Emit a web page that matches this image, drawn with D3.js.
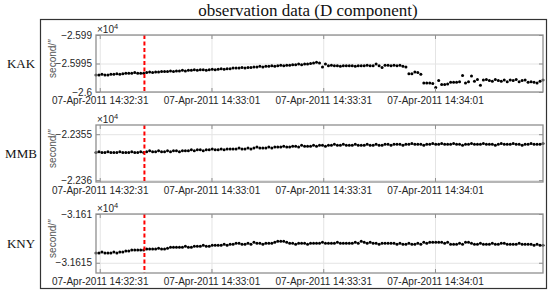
<!DOCTYPE html>
<html>
<head>
<meta charset="utf-8">
<script src="https://cdn.jsdelivr.net/npm/d3@7"></script>
<style>
  body { margin: 0; background: #fff; }
  svg { display: block; }
</style>
</head>
<body>
<div id="chart"></div>
<script>
const chartTitle = "observation data (D component)";
const stations = ["KAK", "MMB", "KNY"];

// one sample every 0.8 s starting at 14:32:30
const startTime = "2011-04-07T14:32:30";
const sampleStep = 0.8;
const eventTime = "2011-04-07T14:32:43";
const xTickTimes = ["2011-04-07T14:32:31", "2011-04-07T14:33:01", "2011-04-07T14:33:31", "2011-04-07T14:34:01"];

const kakValues = [
  -25997.0, -25997.0, -25996.9, -25997.0, -25997.0, -25996.9,
  -25996.9, -25996.8, -25996.9, -25996.8,
  -25996.7, -25996.7, -25996.7, -25996.6, -25996.7, -25996.7, -25996.7,
  -25996.6, -25996.5, -25996.6, -25996.5, -25996.5, -25996.4,
  -25996.4, -25996.4, -25996.3, -25996.4, -25996.3, -25996.3, -25996.2, -25996.3,
  -25996.2, -25996.2, -25996.1, -25996.2, -25996.1, -25996.1, -25996.2, -25996.1, -25996.0, -25996.1,
  -25996.0, -25995.9, -25996.0, -25995.9, -25995.9, -25995.8,
  -25995.8, -25995.8, -25995.7, -25995.8, -25995.7, -25995.7,
  -25995.6, -25995.6, -25995.5, -25995.6, -25995.5, -25995.5, -25995.4, -25995.5,
  -25995.4, -25995.3, -25995.4, -25995.3, -25995.3, -25995.2,
  -25995.2, -25995.1, -25995.2, -25995.1, -25995.1, -25995.0,
  -25994.9, -25994.8, -25994.9,
  -25995.6,
  -25995.1,
  -25995.4, -25995.3, -25995.4, -25995.4, -25995.5, -25995.4, -25995.4, -25995.4,
  -25995.4, -25995.5, -25995.4, -25995.4, -25995.4, -25995.3, -25995.4, -25995.4,
  -25995.1, -25995.4, -25995.7, -25995.3, -25995.3, -25995.4, -25995.3,
  -25995.4, -25995.3, -25995.5, -25995.6,
  -25996.8, -25996.8, -25996.5, -25996.6, -25996.9,
  -25998.4, -25998.4, -25998.4, -25998.5, -25999.2, -25998.0, -25998.7, -25998.7, -25998.6, -25998.3,
  -25998.3, -25998.3, -25998.2, -25997.1, -25998.4, -25998.2, -25997.2, -25998.1, -25997.8, -25998.8,
  -25997.9, -25997.8, -25998.0, -25998.1, -25997.8, -25998.0, -25998.1, -25997.9, -25998.2, -25997.9,
  -25998.0, -25997.8, -25998.2, -25998.0, -25997.9, -25998.3, -25998.2, -25998.3, -25998.4, -25998.1,
  -25997.9
];

const mmbValues = [
  -22357.0, -22356.9, -22357.0, -22357.0, -22356.9, -22357.0, -22357.0, -22357.0, -22356.9,
  -22357.0, -22357.0, -22357.0, -22356.9, -22357.0, -22357.0, -22356.9, -22357.0,
  -22356.9, -22356.8, -22356.9, -22356.9, -22356.8, -22356.9, -22356.9, -22356.8, -22356.9,
  -22356.8, -22356.8, -22356.9, -22356.8, -22356.8,
  -22356.8, -22356.7, -22356.8, -22356.7, -22356.7, -22356.8, -22356.7, -22356.7, -22356.6,
  -22356.7, -22356.7, -22356.6, -22356.7, -22356.6, -22356.6,
  -22356.6, -22356.6, -22356.5, -22356.6, -22356.6, -22356.5, -22356.6, -22356.5, -22356.4,
  -22356.5, -22356.5, -22356.5, -22356.4, -22356.5, -22356.4,
  -22356.4, -22356.4, -22356.3, -22356.4, -22356.4, -22356.3, -22356.3, -22356.4, -22356.2, -22356.3,
  -22356.3, -22356.3, -22356.2, -22356.3, -22356.2, -22356.2, -22356.3, -22356.2, -22356.2, -22356.1,
  -22356.2, -22356.2, -22356.1, -22356.2, -22356.2, -22356.2, -22356.1, -22356.2, -22356.2, -22356.2,
  -22356.1, -22356.2, -22356.2, -22356.1, -22356.2, -22356.2, -22356.1, -22356.1, -22356.2, -22356.1,
  -22356.1, -22356.1, -22356.2, -22356.1, -22356.1, -22356.0, -22356.1, -22356.1, -22356.1, -22356.2,
  -22356.1, -22356.1, -22356.0, -22356.1, -22356.1, -22356.0, -22356.1, -22356.1, -22356.1, -22356.0,
  -22356.1, -22356.1, -22356.2, -22356.1, -22356.1,
  -22356.0, -22356.1, -22356.1, -22356.1, -22356.0, -22356.1, -22356.1, -22356.1, -22356.2, -22356.1,
  -22356.0, -22356.1, -22356.1, -22356.1, -22356.0, -22356.1, -22356.1, -22356.2, -22356.1, -22356.1,
  -22356.0, -22356.1, -22356.1, -22356.1, -22356.0
];

const knyValues = [
  -31614.0, -31614.0, -31613.9, -31614.0, -31614.0, -31614.0, -31613.9, -31614.0,
  -31613.9, -31613.9, -31613.8, -31613.8,
  -31613.7, -31613.7, -31613.7, -31613.7, -31613.7,
  -31613.6, -31613.6, -31613.6, -31613.6, -31613.5, -31613.6, -31613.6,
  -31613.5, -31613.4, -31613.4, -31613.4, -31613.4, -31613.4, -31613.3, -31613.4, -31613.4,
  -31613.3, -31613.3, -31613.3, -31613.2, -31613.3, -31613.3, -31613.2, -31613.2,
  -31613.2, -31613.2, -31613.1, -31613.2, -31613.1, -31613.1, -31613.0,
  -31613.0, -31613.1, -31613.1,
  -31613.0, -31613.1, -31612.9, -31613.0, -31613.0, -31613.1, -31613.0, -31613.0, -31613.0, -31612.9,
  -31612.8, -31612.8, -31612.8, -31612.9,
  -31613.0, -31613.0, -31613.1, -31613.0, -31613.0, -31613.0, -31613.1, -31613.0, -31613.0, -31613.0, -31613.0,
  -31612.9,
  -31613.0, -31613.0, -31613.0, -31613.0, -31612.9, -31613.0, -31613.0, -31613.0, -31613.0, -31613.0, -31612.9, -31613.0,
  -31612.8,
  -31612.9, -31613.0, -31612.9, -31613.0, -31613.0, -31613.1, -31613.0, -31613.0, -31613.0, -31613.0, -31613.0,
  -31613.1, -31613.0, -31613.1, -31613.1, -31613.0, -31613.1, -31613.1, -31613.0, -31613.1, -31612.9, -31613.0,
  -31612.9, -31612.9, -31612.9, -31612.9, -31612.9, -31613.0, -31612.9,
  -31613.1, -31613.1, -31613.1, -31613.0, -31613.1,
  -31612.9, -31612.9, -31613.0,
  -31613.1, -31613.1, -31613.0, -31613.1, -31613.1, -31613.1, -31613.0, -31613.1, -31613.1, -31613.0,
  -31613.0, -31613.1, -31613.1, -31613.1, -31613.1, -31613.0, -31613.1, -31613.1, -31613.1,
  -31613.1, -31613.2, -31613.1, -31613.2, -31613.2
];

const kakDomain = [-26000, -25990];
const mmbDomain = [-22360.2, -22354.0];
const knyDomain = [-31616.05, -31610];
const kakTicks = [-26000, -25995, -25990];
const mmbTicks = [-22360, -22355];
const knyTicks = [-31615, -31610];
const kakTickLabels = ["−2.6", "−2.5995", "−2.599"];
const mmbTickLabels = ["−2.236", "−2.2355"];
const knyTickLabels = ["−3.1615", "−3.161"];

const panels = [
  { name: stations[0], values: kakValues, domain: kakDomain, ticks: kakTicks, labels: kakTickLabels },
  { name: stations[1], values: mmbValues, domain: mmbDomain, ticks: mmbTicks, labels: mmbTickLabels },
  { name: stations[2], values: knyValues, domain: knyDomain, ticks: knyTicks, labels: knyTickLabels }
];

const width = 550, height = 292;
const left = 96, right = 543;
const boxes = [[35, 92], [125, 182], [214, 273]];

const parseTime = d3.timeParse("%Y-%m-%dT%H:%M:%S");
const fmtTime = d3.timeFormat("%d-%b-%Y %H:%M:%S");
const t0 = parseTime(startTime);
const timeAt = i => new Date(t0.getTime() + i * sampleStep * 1000);
const xTicks = xTickTimes.map(parseTime);
const nSamples = kakValues.length;

const x = d3.scaleTime()
    .domain([timeAt(0), timeAt(nSamples - 1)])
    .range([left, right]);

const svg = d3.select("#chart")
    .append("svg")
    .attr("width", width)
    .attr("height", height)
    .style("font-family", "'Liberation Sans', Arial, sans-serif");

svg.append("rect")
    .attr("width", width).attr("height", height).attr("fill", "#fff");

svg.append("rect")
    .attr("x", 40.5).attr("y", 19.5)
    .attr("width", 506).attr("height", 269)
    .attr("fill", "none")
    .attr("stroke", "#333")
    .attr("stroke-width", 1.2);

svg.append("text")
    .attr("x", 308).attr("y", 16)
    .attr("text-anchor", "middle")
    .attr("font-family", "'Liberation Serif', 'Times New Roman', serif")
    .attr("font-size", 17)
    .attr("fill", "#111")
    .text(chartTitle);

panels.forEach((p, k) => {
    const [top, bottom] = boxes[k];
    const y = d3.scaleLinear().domain(p.domain).range([bottom, top]);
    const g = svg.append("g");

    // grid
    g.append("g")
        .attr("transform", `translate(0,${bottom})`)
        .call(d3.axisBottom(x).tickValues(xTicks).tickSize(-(bottom - top)).tickFormat(""))
        .call(s => s.select(".domain").remove())
        .selectAll("line").attr("stroke", "#e4e4e4");
    g.append("g")
        .attr("transform", `translate(${left},0)`)
        .call(d3.axisLeft(y).tickValues(p.ticks).tickSize(-(right - left)).tickFormat(""))
        .call(s => s.select(".domain").remove())
        .selectAll("line").attr("stroke", "#e4e4e4");

    // samples
    g.append("g")
        .selectAll("circle")
        .data(p.values)
        .join("circle")
        .attr("cx", (d, i) => x(timeAt(i)))
        .attr("cy", d => y(d))
        .attr("r", 1.5)
        .attr("fill", "#000");

    // event marker
    g.append("line")
        .attr("x1", x(parseTime(eventTime))).attr("x2", x(parseTime(eventTime)))
        .attr("y1", top).attr("y2", bottom)
        .attr("stroke", "#ff0000")
        .attr("stroke-width", 2)
        .attr("stroke-dasharray", "4,2.5");

    // axes with inward ticks
    const axisColor = "#8f8f8f";
    const bx = g.append("g")
        .attr("transform", `translate(0,${bottom})`)
        .call(d3.axisBottom(x).tickValues(xTicks).tickSize(-4).tickPadding(5).tickFormat(fmtTime));
    const tx = g.append("g")
        .attr("transform", `translate(0,${top})`)
        .call(d3.axisTop(x).tickValues(xTicks).tickSize(-4).tickFormat(""));
    const ly = g.append("g")
        .attr("transform", `translate(${left},0)`)
        .call(d3.axisLeft(y).tickValues(p.ticks).tickSize(-4).tickPadding(4).tickFormat((d, i) => p.labels[i]));
    const ry = g.append("g")
        .attr("transform", `translate(${right},0)`)
        .call(d3.axisRight(y).tickValues(p.ticks).tickSize(-4).tickFormat(""));
    [bx, tx, ly, ry].forEach(a => {
        a.select(".domain").remove();
        a.selectAll("line").attr("stroke", axisColor);
        a.selectAll("text").attr("fill", "#262626").attr("font-size", 10);
    });

    g.append("rect")
        .attr("x", left).attr("y", top)
        .attr("width", right - left).attr("height", bottom - top)
        .attr("fill", "none")
        .attr("stroke", axisColor)
        .attr("stroke-width", 1.3);

    // exponent
    const ex = g.append("text")
        .attr("x", 97).attr("y", top - 2)
        .attr("font-size", 10)
        .attr("fill", "#262626");
    ex.append("tspan").text("×10");
    ex.append("tspan").attr("dy", -4).attr("font-size", 7.5).text("4");

    // y label
    g.append("text")
        .attr("transform", `translate(56,${(top + bottom) / 2 - 5}) rotate(-90)`)
        .attr("text-anchor", "middle")
        .attr("font-size", 10)
        .attr("fill", "#555")
        .text("second/′′");

    // station name
    svg.append("text")
        .attr("x", 21).attr("y", (top + bottom) / 2 + 4)
        .attr("text-anchor", "middle")
        .attr("font-family", "'Liberation Serif', 'Times New Roman', serif")
        .attr("font-size", 13)
        .attr("fill", "#111")
        .text(p.name);
});
</script>
</body>
</html>
